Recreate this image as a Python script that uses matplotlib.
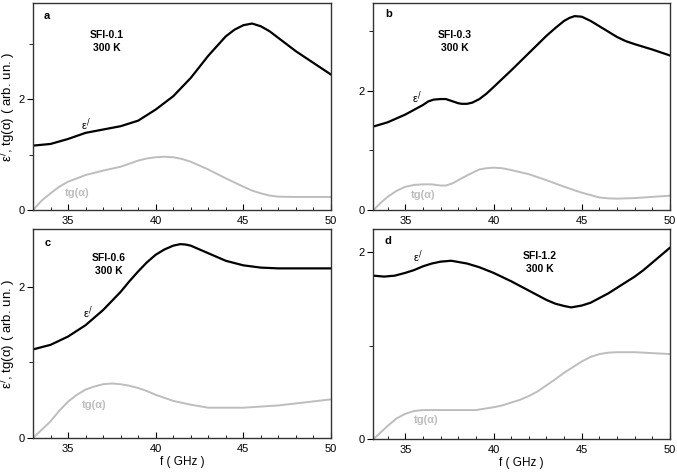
import matplotlib
matplotlib.use("Agg")
import matplotlib.pyplot as plt
from matplotlib.ticker import MultipleLocator

plt.rcParams['font.family'] = ['Liberation Sans', 'DejaVu Sans']

# ---- data (f in GHz) ----
f_eps_a = [33, 34, 35, 36, 37, 38, 39, 40, 41, 42, 43, 44, 44.5, 45, 45.5, 46, 46.5, 47, 48, 49, 50]
eps_a = [1.16, 1.19, 1.28, 1.39, 1.45, 1.51, 1.61, 1.81, 2.05, 2.38, 2.78, 3.13, 3.25, 3.33, 3.36, 3.31, 3.22, 3.10, 2.86, 2.65, 2.44]
f_tg_a = [33, 33.5, 34, 34.5, 35, 36, 37, 38, 39, 39.5, 40, 40.5, 41, 41.5, 42, 43, 44, 45, 45.5, 46, 46.5, 47, 48, 50]
tg_a = [0.0, 0.17, 0.30, 0.42, 0.51, 0.63, 0.71, 0.78, 0.89, 0.93, 0.95, 0.96, 0.95, 0.92, 0.87, 0.73, 0.57, 0.42, 0.35, 0.30, 0.26, 0.24, 0.235, 0.235]

f_eps_b = [33.2, 34, 35, 35.5, 36, 36.3, 36.6, 37, 37.3, 37.6, 38, 38.2, 38.5, 38.8, 39.2, 39.6, 40, 41, 42, 43, 43.5, 44,
           44.3, 44.6, 45, 45.5, 46, 47, 47.5, 48, 49, 50]
eps_b = [1.40, 1.47, 1.60, 1.68, 1.76, 1.82, 1.85, 1.86, 1.86, 1.83, 1.79, 1.78, 1.78, 1.80, 1.86, 1.95, 2.06, 2.34, 2.63, 2.92, 3.05, 3.17,
         3.22, 3.25, 3.24, 3.17, 3.08, 2.90, 2.83, 2.78, 2.69, 2.59]
f_tg_b = [33.2, 33.6, 34, 34.5, 35, 35.5, 36, 36.5, 37, 37.3, 37.7, 38, 38.5, 39.2, 39.6, 40, 40.5, 41, 42, 43, 44, 45, 46, 46.5, 47, 48, 50]
tg_b = [0.0, 0.12, 0.22, 0.32, 0.39, 0.42, 0.43, 0.43, 0.41, 0.41, 0.45, 0.50, 0.58, 0.68, 0.70, 0.71, 0.70, 0.67, 0.60, 0.50, 0.39, 0.29, 0.21, 0.195, 0.19, 0.20, 0.24]

f_eps_c = [33, 34, 35, 36, 37, 38, 38.5, 39, 39.5, 40, 40.5, 41, 41.4, 41.7, 42, 42.5, 43, 43.5, 44, 44.5, 45, 46, 47, 48, 50]
eps_c = [1.17, 1.23, 1.34, 1.49, 1.69, 1.93, 2.07, 2.20, 2.32, 2.42, 2.49, 2.54, 2.56, 2.555, 2.54, 2.49, 2.44, 2.39, 2.34, 2.31, 2.28, 2.25, 2.24, 2.24, 2.24]
f_tg_c = [33, 33.5, 34, 34.5, 35, 35.5, 36, 36.5, 37, 37.5, 38, 38.5, 39, 39.5, 40, 40.5, 41, 42, 43, 44, 45, 47, 50]
tg_c = [0.0, 0.11, 0.22, 0.36, 0.48, 0.57, 0.64, 0.68, 0.71, 0.72, 0.71, 0.69, 0.66, 0.62, 0.57, 0.53, 0.49, 0.44, 0.40, 0.40, 0.40, 0.43, 0.51]

f_eps_d = [33.2, 33.8, 34.4, 35, 35.5, 36, 36.5, 37, 37.6, 38.5, 39.2, 40, 41, 42, 43, 43.5, 44, 44.4, 45, 45.5, 46, 46.5,
           47, 47.5, 48, 48.5, 49, 49.5, 50]
eps_d = [1.75, 1.74, 1.75, 1.78, 1.81, 1.85, 1.88, 1.90, 1.91, 1.88, 1.84, 1.78, 1.69, 1.59, 1.49, 1.45, 1.425, 1.41, 1.43, 1.46, 1.51, 1.56,
         1.62, 1.68, 1.74, 1.81, 1.89, 1.97, 2.05]
f_tg_d = [33.2, 33.6, 34, 34.5, 35, 35.5, 36, 37, 38, 39, 40, 40.5, 41, 41.5, 42, 42.5, 43, 43.5, 44, 44.5, 45, 45.5, 46, 46.5, 47, 48, 50]
tg_d = [0.0, 0.07, 0.14, 0.22, 0.27, 0.30, 0.31, 0.31, 0.31, 0.31, 0.34, 0.36, 0.39, 0.42, 0.46, 0.51, 0.575, 0.64, 0.71, 0.77, 0.83, 0.88, 0.91, 0.925, 0.93, 0.93, 0.91]

letters = ["a", "b", "c", "d"]
samples = ["SFI-0.1\n300 K", "SFI-0.3\n300 K", "SFI-0.6\n300 K", "SFI-1.2\n300 K"]

fig = plt.figure(figsize=(6.77, 4.72), dpi=100)
W, H = 677.0, 472.0
def box(l, t, r, b):
    return [l / W, 1 - b / H, (r - l) / W, (b - t) / H]

axes = [fig.add_axes(box(33, 3, 331, 210)),
        fig.add_axes(box(373, 3, 670, 210)),
        fig.add_axes(box(33, 229, 331, 438)),
        fig.add_axes(box(373, 229, 670, 439))]

curves = [(f_eps_a, eps_a, f_tg_a, tg_a), (f_eps_b, eps_b, f_tg_b, tg_b),
          (f_eps_c, eps_c, f_tg_c, tg_c), (f_eps_d, eps_d, f_tg_d, tg_d)]
xlims = [(33, 50), (33.17, 50), (33, 50), (33.17, 50)]
ylims = [3.73, 3.47, 2.76, 2.25]
# text positions (data coords): letter, sample, eps, tg
pos = [((33.8, 3.5), (37.2, 3.04), (36.0, 1.54), (35.5, 0.31)),
       ((34.06, 3.28), (37.8, 2.83), (35.65, 1.88), (36.0, 0.25)),
       ((33.85, 2.57), (37.3, 2.29), (36.1, 1.66), (36.5, 0.43)),
       ((34.0, 2.12), (42.6, 1.89), (35.7, 1.95), (36.2, 0.20))]

gray = "#bdbdbd"
for i, ax in enumerate(axes):
    fe, e, ft, t = curves[i]
    ax.plot(fe, e, color="black", lw=1.6)
    ax.plot(ft, t, color=gray, lw=1.4)
    ax.set_xlim(*xlims[i])
    ax.set_ylim(0, ylims[i])
    ax.xaxis.set_major_locator(MultipleLocator(5))
    ax.xaxis.set_minor_locator(MultipleLocator(1))
    ax.yaxis.set_major_locator(MultipleLocator(2))
    ax.yaxis.set_minor_locator(MultipleLocator(1))
    ax.tick_params(axis="x", which="both", direction="in", labelsize=8, pad=4)
    ax.tick_params(axis="x", which="major", length=4)
    ax.tick_params(axis="x", which="minor", length=2.5)
    ax.tick_params(axis="y", which="both", direction="out", labelsize=8, pad=2)
    ax.tick_params(axis="y", which="major", length=4)
    ax.tick_params(axis="y", which="minor", length=3)
    for s in ax.spines.values():
        s.set_color("#333333")
        s.set_linewidth(1.0)
    lp, sp, ep, tp = pos[i]
    ax.text(*lp, letters[i], fontsize=8, fontweight="bold", ha="center", va="center")
    ax.text(*sp, samples[i], fontsize=7.5, fontweight="bold", ha="center", va="center",
            linespacing=1.35)
    ax.text(*ep, "ε$^{/}$", fontsize=8, ha="center", va="center")
    ax.text(*tp, "tg(α)", fontsize=8, color=gray, fontweight="bold",
            ha="center", va="center")

for ax in (axes[0], axes[2]):
    ax.set_ylabel("ε$^{/}$, tg(α) ( arb. un. )", fontsize=9.5)
    ax.yaxis.set_label_coords(-0.05, 0.5)
for ax in (axes[2], axes[3]):
    ax.set_xlabel("f ( GHz )", fontsize=8.5, labelpad=2)

fig.savefig("out.png", dpi=100)
